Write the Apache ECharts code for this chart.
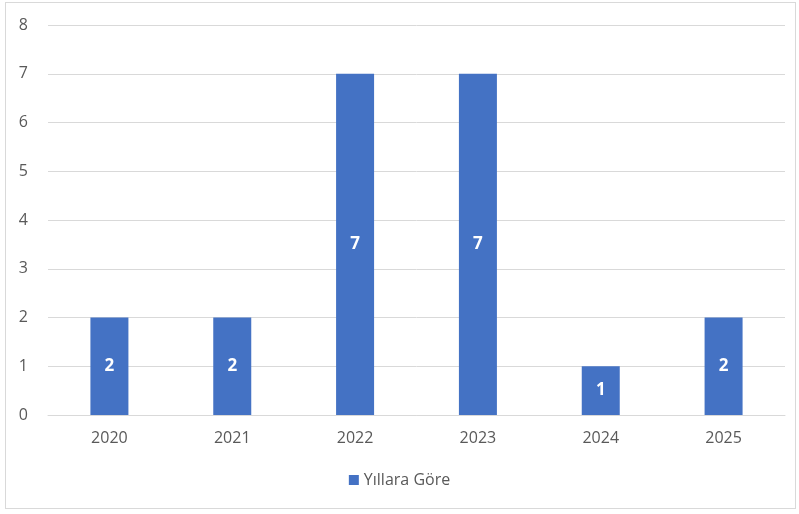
<!DOCTYPE html>
<html>
<head>
    <meta charset="utf-8">
    <title>Yıllara Göre</title>
    <script src="https://cdn.jsdelivr.net/npm/echarts@6/dist/echarts.min.js"></script>
    <style>
        html, body { margin: 0; padding: 0; background: #fff; }
        #frame {
            position: absolute; left: 5px; top: 2px;
            width: 791px; height: 507px;
            border: 1px solid #d9d9d9; box-sizing: border-box;
        }
        #chart { width: 799px; height: 514px; }
    </style>
</head>
<body>
    <div id="frame"></div>
    <div id="chart"></div>
    <script>
        var years = ['2020', '2021', '2022', '2023', '2024', '2025'];
        var counts = [2, 2, 7, 7, 1, 2];
        var seriesName = 'Yıllara Göre';

        var chart = echarts.init(document.getElementById('chart'));
        chart.setOption({
            animation: false,
            textStyle: { fontFamily: 'Open Sans, sans-serif' },
            grid: { left: 48, right: 14, top: 25, bottom: 99 },
            legend: {
                data: [seriesName],
                bottom: 21,
                left: 'center',
                icon: 'rect',
                itemWidth: 10,
                itemHeight: 10,
                itemGap: 6,
                textStyle: { color: '#595959', fontSize: 16 }
            },
            xAxis: {
                type: 'category',
                data: years,
                axisLine: { show: true, lineStyle: { color: '#d9d9d9' } },
                axisTick: { show: false },
                axisLabel: { color: '#595959', fontSize: 16, margin: 15 }
            },
            yAxis: {
                type: 'value',
                min: 0,
                max: 8,
                interval: 1,
                axisLine: { show: false },
                axisTick: { show: false },
                axisLabel: { color: '#595959', fontSize: 16, margin: 20 },
                splitLine: { lineStyle: { color: '#d9d9d9', width: 1 } }
            },
            series: [{
                name: seriesName,
                type: 'bar',
                data: counts,
                barWidth: 38,
                itemStyle: { color: '#4472c4' },
                label: {
                    show: true,
                    position: 'inside',
                    color: '#fff',
                    fontWeight: 'bold',
                    fontSize: 17
                }
            }]
        });
    </script>
</body>
</html>
